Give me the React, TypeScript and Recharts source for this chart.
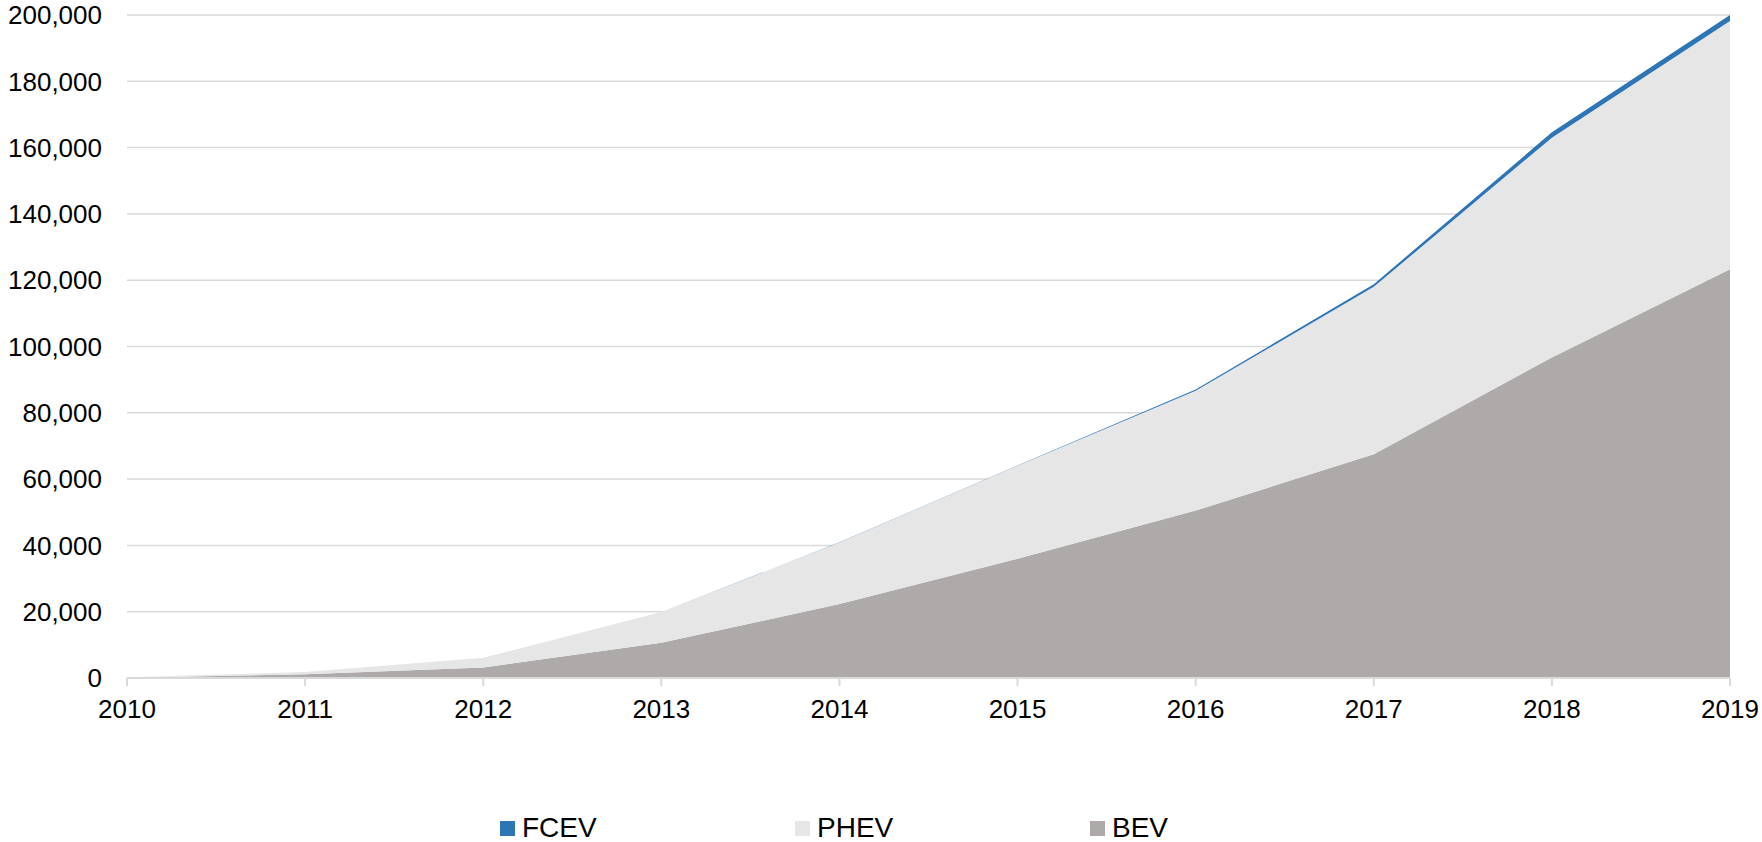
import { AreaChart, Area, XAxis, YAxis, CartesianGrid } from 'recharts';

// cumulative registrations
const years = ['2010', '2011', '2012', '2013', '2014', '2015', '2016', '2017', '2018', '2019'];
const bev = [100, 1100, 3200, 10600, 22300, 36000, 50500, 67500, 96700, 123300];
const phev = [100, 700, 2900, 9300, 18600, 28000, 36150, 50500, 66300, 74900];
const fcev = [0, 0, 0, 0, 20, 100, 350, 800, 1600, 1800];
const yTicks = [0, 20000, 40000, 60000, 80000, 100000, 120000, 140000, 160000, 180000, 200000];

const legendItems = [
  { name: 'FCEV', color: '#2E75B6' },
  { name: 'PHEV', color: '#E7E6E6' },
  { name: 'BEV', color: '#AEAAAA' },
];

const FONT = '"Liberation Sans", Arial, sans-serif';

function App() {
  const chartData = years.map((year, i) => ({
    year,
    BEV: bev[i],
    PHEV: phev[i],
    FCEV: fcev[i],
  }));

  return (
    <div style={{ position: 'absolute', left: 0, top: 0, width: 1762, height: 842, background: '#fff', fontFamily: FONT, overflow: 'hidden' }}>
      <AreaChart
        width={1762}
        height={842}
        data={chartData}
        margin={{ top: 15, right: 32, left: 0, bottom: 104 }}
      >
        <CartesianGrid vertical={false} stroke="#D9D9D9" strokeWidth={1.5} />
        <XAxis
          dataKey="year"
          stroke="#D9D9D9"
          strokeWidth={2}
          tickSize={8}
          tickMargin={14}
          height={60}
          tick={{ fill: '#000', fontSize: 26, fontFamily: FONT }}
          interval={0}
        />
        <YAxis
          domain={[0, 200000]}
          ticks={yTicks}
          width={127}
          axisLine={false}
          tickLine={false}
          tickSize={0}
          tickMargin={25}
          tick={{ fill: '#000', fontSize: 26, fontFamily: FONT }}
          tickFormatter={(v: number) => v.toLocaleString('en-US')}
        />
        <Area type="linear" dataKey="BEV" stackId="ev" stroke="none" fill="#AEAAAA" fillOpacity={1} isAnimationActive={false} />
        <Area type="linear" dataKey="PHEV" stackId="ev" stroke="none" fill="#E7E6E6" fillOpacity={1} isAnimationActive={false} />
        <Area type="linear" dataKey="FCEV" stackId="ev" stroke="none" fill="#2E75B6" fillOpacity={1} isAnimationActive={false} />
      </AreaChart>
      <div style={{ position: 'absolute', left: 500, top: 812, display: 'flex' }}>
        {legendItems.map(item => (
          <div key={item.name} style={{ width: 295, display: 'flex', alignItems: 'center' }}>
            <span style={{ width: 15, height: 15, background: item.color, display: 'inline-block', marginRight: 7 }} />
            <span style={{ fontSize: 28, color: '#000', lineHeight: '32px' }}>{item.name}</span>
          </div>
        ))}
      </div>
    </div>
  );
}

export default App;
